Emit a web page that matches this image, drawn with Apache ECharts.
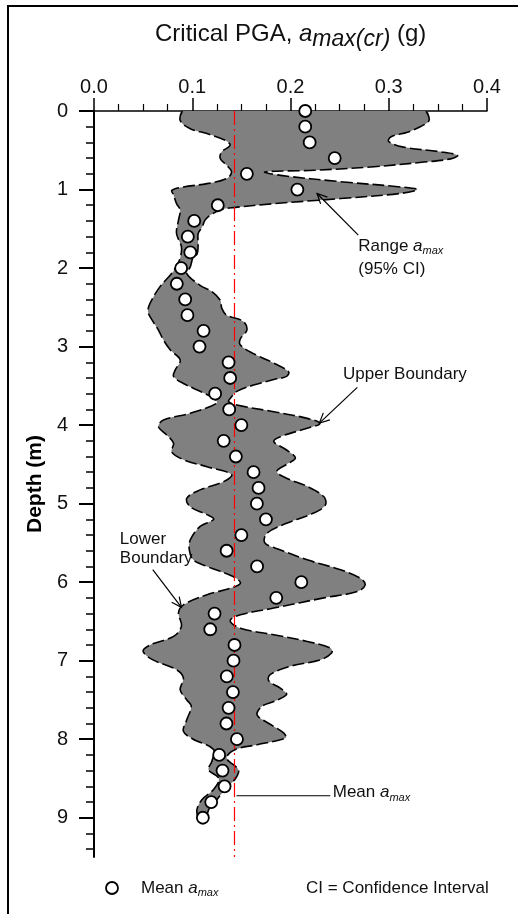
<!DOCTYPE html>
<html><head><meta charset="utf-8">
<script src="https://cdn.jsdelivr.net/npm/echarts@6/dist/echarts.min.js"></script>
<style>html,body{margin:0;padding:0;background:#fff}#c{width:518px;height:914px}</style>
</head><body><div id="c"></div>
<script>
// ---- data ----
const depths = [0,0.2,0.4,0.6,0.8,1.0,1.2,1.4,1.6,1.8,2.0,2.2,2.4,2.6,2.8,3.0,3.2,3.4,3.6,3.8,4.0,4.2,4.4,4.6,4.8,5.0,5.2,5.4,5.6,5.8,6.0,6.2,6.4,6.6,6.8,7.0,7.2,7.4,7.6,7.8,8.0,8.2,8.4,8.6,8.8,9.0];
const meanAmax = [0.215,0.215,0.2195,0.245,0.1556,0.207,0.126,0.102,0.0955,0.098,0.0887,0.0843,0.0928,0.0951,0.1115,0.1074,0.137,0.1386,0.1233,0.1376,0.150,0.132,0.1444,0.1624,0.1675,0.1658,0.175,0.150,0.135,0.166,0.211,0.1855,0.1227,0.1183,0.143,0.142,0.1352,0.1414,0.137,0.1348,0.1455,0.1274,0.1308,0.1329,0.1193,0.1108];
// [depth (m), a_max (g)]
const upperBoundary = [[0.0,0.338],[0.12,0.341],[0.2,0.332],[0.27,0.319],[0.33,0.302],[0.39,0.300],[0.46,0.315],[0.52,0.353],[0.565,0.370],[0.61,0.363],[0.65,0.336],[0.71,0.285],[0.755,0.224],[0.776,0.174],[0.82,0.19],[0.90,0.251],[0.967,0.312],[1.0,0.329],[1.05,0.312],[1.115,0.251],[1.18,0.183],[1.23,0.142],[1.26,0.1285],[1.33,0.118],[1.39,0.113],[1.48,0.110],[1.56,0.106],[1.69,0.106],[1.82,0.105],[1.86,0.101],[1.985,0.098],[2.07,0.0945],[2.22,0.108],[2.30,0.120],[2.41,0.1285],[2.51,0.130],[2.60,0.135],[2.68,0.152],[2.79,0.1556],[2.90,0.149],[2.98,0.149],[3.09,0.1624],[3.21,0.183],[3.32,0.198],[3.38,0.196],[3.42,0.183],[3.49,0.1624],[3.57,0.1454],[3.64,0.140],[3.70,0.137],[3.745,0.1454],[3.83,0.183],[3.914,0.217],[3.978,0.230],[4.04,0.217],[4.147,0.1896],[4.21,0.183],[4.317,0.196],[4.42,0.205],[4.50,0.196],[4.59,0.186],[4.677,0.196],[4.78,0.217],[4.91,0.2338],[5.017,0.2355],[5.12,0.2236],[5.25,0.196],[5.377,0.176],[5.50,0.174],[5.59,0.190],[5.716,0.217],[5.843,0.251],[5.95,0.271],[6.034,0.276],[6.12,0.268],[6.20,0.234],[6.33,0.183],[6.416,0.149],[6.49,0.1386],[6.586,0.149],[6.67,0.183],[6.755,0.217],[6.84,0.2406],[6.90,0.242],[6.99,0.2304],[7.07,0.200],[7.18,0.179],[7.26,0.178],[7.35,0.1896],[7.43,0.196],[7.52,0.183],[7.58,0.171],[7.69,0.166],[7.80,0.178],[7.92,0.193],[7.985,0.195],[8.07,0.166],[8.13,0.144],[8.24,0.135],[8.39,0.147],[8.50,0.144],[8.64,0.1335],[8.77,0.125],[8.90,0.1166],[9.0,0.115]];
const lowerBoundary = [[0.0,0.090],[0.12,0.0877],[0.225,0.098],[0.288,0.115],[0.373,0.1335],[0.437,0.1386],[0.52,0.130],[0.606,0.1285],[0.69,0.135],[0.776,0.140],[0.86,0.135],[0.925,0.115],[0.967,0.091],[1.01,0.0792],[1.07,0.081],[1.18,0.084],[1.26,0.0877],[1.39,0.086],[1.56,0.084],[1.73,0.089],[1.86,0.088],[1.95,0.085],[2.07,0.079],[2.24,0.067],[2.45,0.057],[2.556,0.055],[2.68,0.060],[2.79,0.0656],[2.917,0.0707],[3.04,0.0775],[3.17,0.0877],[3.30,0.0826],[3.38,0.081],[3.47,0.091],[3.57,0.108],[3.66,0.1217],[3.72,0.125],[3.85,0.0979],[3.935,0.0707],[4.02,0.0656],[4.126,0.074],[4.23,0.081],[4.34,0.079],[4.44,0.091],[4.53,0.115],[4.63,0.140],[4.72,0.132],[4.825,0.108],[4.93,0.0945],[5.04,0.098],[5.14,0.115],[5.20,0.1217],[5.29,0.108],[5.46,0.098],[5.59,0.097],[5.716,0.101],[5.80,0.115],[5.93,0.142],[6.013,0.149],[6.077,0.1386],[6.16,0.115],[6.29,0.091],[6.39,0.086],[6.56,0.089],[6.69,0.081],[6.80,0.057],[6.88,0.050],[6.99,0.060],[7.115,0.084],[7.22,0.091],[7.37,0.0877],[7.50,0.0945],[7.58,0.099],[7.75,0.0945],[7.90,0.091],[8.0,0.101],[8.13,0.1217],[8.28,0.120],[8.39,0.1166],[8.50,0.127],[8.64,0.1217],[8.77,0.1098],[8.90,0.1047],[9.0,0.106]];
const overallMean = 0.143;
const depthTicks = [0,1,2,3,4,5,6,7,8,9];
const depthMinorTicks = [0.2,0.4,0.6,0.8,1.2,1.4,1.6,1.8,2.2,2.4,2.6,2.8,3.2,3.4,3.6,3.8,4.2,4.4,4.6,4.8,5.2,5.4,5.6,5.8,6.2,6.4,6.6,6.8,7.2,7.4,7.6,7.8,8.2,8.4,8.6,8.8,9.2,9.4];

// ---- chart ----
const FF = "'Liberation Sans', Arial, sans-serif";
const chart = echarts.init(document.getElementById('c'), null, {renderer: 'canvas'});
const option = {
  animation: false,
  backgroundColor: '#fff',
  title: {
    text: '{n|Critical PGA, }{i|a}{s|max(cr)}{n| (g)}',
    left: 150, top: 13,
    textStyle: {
      fontWeight: 'normal',
      rich: {
        n: {fontSize: 24, fontFamily: FF, fontWeight: 'normal', color: '#111', verticalAlign: 'middle'},
        i: {fontSize: 24, fontFamily: FF, fontWeight: 'normal', color: '#111', fontStyle: 'italic', verticalAlign: 'middle'},
        s: {fontSize: 23, fontFamily: FF, fontWeight: 'normal', color: '#111', fontStyle: 'italic', verticalAlign: 'middle', padding: [10, 0, 0, 0]}
      }
    }
  },
  grid: {left: 94, right: 31, top: 111, bottom: 57, containLabel: false},
  xAxis: {
    type: 'value', position: 'top', min: 0, max: 0.4, interval: 0.1,
    axisLine: {show: true, lineStyle: {color: '#000', width: 1.5}},
    axisTick: {show: true, inside: false, length: 13, lineStyle: {color: '#000', width: 1.5}},
    minorTick: {show: true, splitNumber: 4, length: 7, lineStyle: {color: '#000', width: 1.2}},
    axisLabel: {formatter: v => v.toFixed(1), fontSize: 20, fontFamily: FF, color: '#111', margin: 14},
    splitLine: {show: false}
  },
  yAxis: [{
    type: 'value', inverse: true, min: 0, max: 9.5,
    axisLine: {show: true, onZero: false, lineStyle: {color: '#000', width: 2}},
    axisTick: {show: true, inside: false, length: 15, customValues: depthTicks, lineStyle: {color: '#000', width: 2}},
    axisLabel: {customValues: depthTicks, fontSize: 20, fontFamily: FF, color: '#111', margin: 26},
    splitLine: {show: false},
    name: 'Depth (m)', nameLocation: 'middle', nameGap: 48, nameRotate: 90,
    nameTextStyle: {fontSize: 21, fontWeight: 'bold', fontFamily: FF, color: '#000'}
  }, {
    type: 'value', inverse: true, min: 0, max: 9.5, position: 'left',
    axisLine: {show: false},
    axisTick: {show: true, inside: false, length: 8, customValues: depthMinorTicks, lineStyle: {color: '#000', width: 1.5}},
    axisLabel: {show: false},
    splitLine: {show: false}
  }],
  series: [
    {
      type: 'custom', name: 'Range', coordinateSystem: 'cartesian2d', clip: true, z: 2,
      data: [[0, 0]],
      renderItem: function (params, api) {
        const up = upperBoundary.map(p => api.coord([p[1], p[0]]));
        const lo = lowerBoundary.map(p => api.coord([p[1], p[0]]));
        const poly = up.concat(lo.slice().reverse());
        const dash = {stroke: '#000', lineWidth: 1.6, lineDash: [12, 4], fill: null};
        return {
          type: 'group',
          children: [
            {type: 'polygon', shape: {points: poly, smooth: 0.35}, style: {fill: '#808080', stroke: null}},
            {type: 'polyline', shape: {points: up, smooth: 0.35}, style: dash},
            {type: 'polyline', shape: {points: lo, smooth: 0.35}, style: Object.assign({}, dash)}
          ]
        };
      }
    },
    {
      type: 'line', name: 'Mean line', z: 3, symbol: 'none', silent: true,
      data: [[overallMean, 0], [overallMean, 9.5]],
      lineStyle: {color: '#ff0000', width: 1.2, type: [14, 4, 2, 4]}
    },
    {
      type: 'scatter', name: 'Mean a_max', z: 4, symbol: 'circle', symbolSize: 12,
      data: depths.map((d, i) => [meanAmax[i], d]),
      itemStyle: {color: '#fff', borderColor: '#000', borderWidth: 1.8, opacity: 1}
    }
  ]
};
chart.setOption(option);

// ---- annotations (anchored in data coordinates) ----
function P(v, d) { return chart.convertToPixel({xAxisIndex: 0, yAxisIndex: 0}, [v, d]); }
const txtRich = {
  n: {fontSize: 17, fontFamily: FF, fill: '#111', verticalAlign: 'middle'},
  i: {fontSize: 17, fontFamily: FF, fill: '#111', fontStyle: 'italic', verticalAlign: 'middle'},
  s: {fontSize: 11, fontFamily: FF, fill: '#111', fontStyle: 'italic', verticalAlign: 'middle', padding: [10, 0, 0, 0]}
};
function text(x, y, t) {
  return {type: 'text', x: x, y: y, z: 100, style: {text: t, rich: txtRich, fill: '#111', font: '17px ' + FF, textAlign: 'left', textVerticalAlign: 'middle'}};
}
function arrow(a, b) {
  const ang = Math.atan2(b[1] - a[1], b[0] - a[0]);
  const L = 11, w = 0.45;
  const h1 = [b[0] - L * Math.cos(ang - w), b[1] - L * Math.sin(ang - w)];
  const h2 = [b[0] - L * Math.cos(ang + w), b[1] - L * Math.sin(ang + w)];
  return [
    {type: 'line', z: 100, shape: {x1: a[0], y1: a[1], x2: b[0], y2: b[1]}, style: {stroke: '#000', lineWidth: 1.2}},
    {type: 'polyline', z: 100, shape: {points: [h1, b, h2]}, style: {stroke: '#000', lineWidth: 1.2, fill: null}}
  ];
}
const g = [];
g.push({type: 'rect', z: 100, shape: {x: 8, y: 6, width: 700, height: 1100}, style: {fill: null, stroke: '#000', lineWidth: 2}});
let p;
p = P(0.269, 1.72); g.push(text(p[0], p[1], '{n|Range }{i|a}{s|max}'));
p = P(0.269, 2.02); g.push(text(p[0], p[1], '{n|(95% CI)}'));
g.push(...arrow(P(0.269, 1.58), P(0.227, 1.05)));
p = P(0.2535, 3.35); g.push(text(p[0], p[1], '{n|Upper Boundary}'));
g.push(...arrow(P(0.268, 3.52), P(0.2294, 3.975)));
p = P(0.0263, 5.457); g.push(text(p[0], p[1], '{n|Lower}'));
p = P(0.0263, 5.70); g.push(text(p[0], p[1], '{n|Boundary}'));
g.push(...arrow(P(0.0598, 5.84), P(0.089, 6.32)));
const m1 = P(0.145, 8.72), m2 = P(0.2405, 8.72);
g.push({type: 'line', z: 100, shape: {x1: m1[0], y1: m1[1], x2: m2[0], y2: m2[1]}, style: {stroke: '#000', lineWidth: 1.2}});
p = P(0.243, 8.68); g.push(text(p[0], p[1], '{n|Mean }{i|a}{s|max}'));
// legend row
g.push({type: 'circle', z: 100, shape: {cx: 112, cy: 888, r: 6}, style: {fill: '#fff', stroke: '#000', lineWidth: 1.8}});
g.push(text(141, 888, '{n|Mean }{i|a}{s|max}'));
g.push(text(306, 888, '{n|CI = Confidence Interval}'));
chart.setOption({graphic: {elements: g}});
</script></body></html>
